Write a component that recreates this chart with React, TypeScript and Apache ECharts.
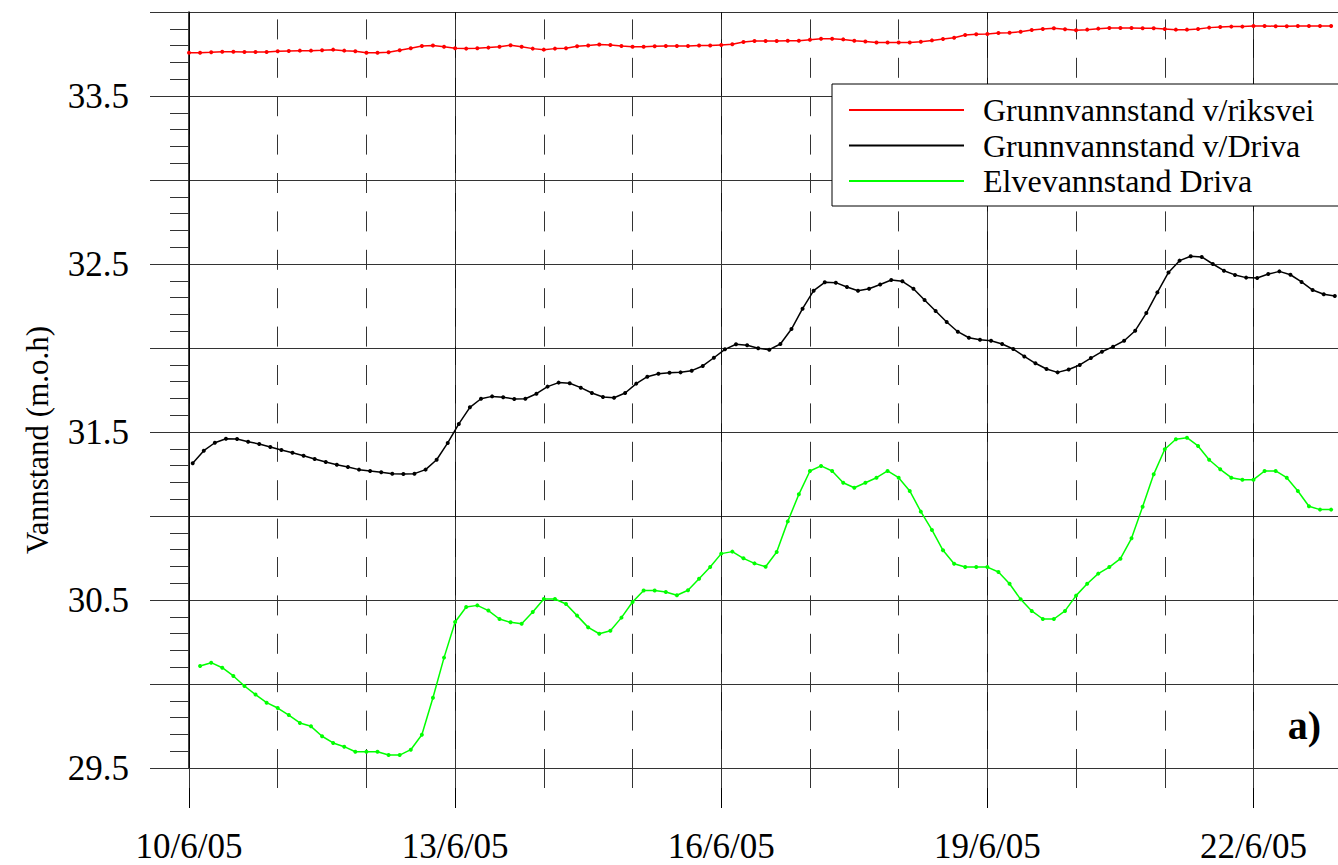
import React, { useEffect, useRef } from 'react';
import * as echarts from 'echarts';

const FONT = '"Liberation Serif", "Times New Roman", Times, serif';

// Sampling: hours after 10/6/05 00:00, one reading every 3 hours
const stepHours = 3;
const riksveiStartHour = 0;
const drivaGwStartHour = 1;
const elveStartHour = 3;

const seriesNames = ['Grunnvannstand v/riksvei', 'Grunnvannstand v/Driva', 'Elvevannstand Driva'];

const riksveiValues = [
  33.758, 33.758, 33.760, 33.764, 33.764, 33.762, 33.762, 33.762, 33.766, 33.768,
  33.770, 33.770, 33.772, 33.776, 33.770, 33.766, 33.758, 33.758, 33.760, 33.772,
  33.784, 33.798, 33.800, 33.793, 33.784, 33.782, 33.784, 33.788, 33.793, 33.802,
  33.793, 33.782, 33.776, 33.782, 33.784, 33.796, 33.800, 33.806, 33.804, 33.798,
  33.793, 33.793, 33.796, 33.798, 33.798, 33.798, 33.800, 33.800, 33.804, 33.808,
  33.821, 33.827, 33.827, 33.827, 33.829, 33.829, 33.835, 33.841, 33.841, 33.837,
  33.829, 33.825, 33.819, 33.819, 33.819, 33.819, 33.823, 33.831, 33.839, 33.847,
  33.863, 33.867, 33.869, 33.875, 33.877, 33.883, 33.893, 33.899, 33.903, 33.897,
  33.891, 33.895, 33.901, 33.905, 33.905, 33.905, 33.903, 33.903, 33.899, 33.895,
  33.895, 33.899, 33.907, 33.911, 33.913, 33.913, 33.917, 33.917, 33.915, 33.915,
  33.917, 33.917, 33.917, 33.917,
];

const drivaGwValues = [
  31.314, 31.389, 31.436, 31.460, 31.458, 31.442, 31.429, 31.411, 31.393, 31.377,
  31.359, 31.339, 31.321, 31.305, 31.292, 31.276, 31.268, 31.260, 31.252, 31.250,
  31.252, 31.276, 31.335, 31.435, 31.548, 31.647, 31.698, 31.712, 31.707, 31.696,
  31.698, 31.728, 31.770, 31.794, 31.790, 31.764, 31.732, 31.708, 31.704, 31.732,
  31.788, 31.829, 31.847, 31.853, 31.855, 31.865, 31.893, 31.942, 31.992, 32.022,
  32.016, 31.998, 31.990, 32.024, 32.113, 32.234, 32.341, 32.391, 32.389, 32.363,
  32.341, 32.353, 32.378, 32.405, 32.397, 32.353, 32.286, 32.220, 32.155, 32.097,
  32.061, 32.049, 32.043, 32.024, 31.994, 31.950, 31.909, 31.875, 31.855, 31.872,
  31.899, 31.940, 31.978, 32.008, 32.043, 32.103, 32.208, 32.331, 32.450, 32.520,
  32.546, 32.542, 32.500, 32.460, 32.435, 32.419, 32.417, 32.440, 32.456, 32.436,
  32.393, 32.345, 32.320, 32.310,
];

const elveValues = [
  30.107, 30.127, 30.097, 30.048, 29.988, 29.937, 29.889, 29.857, 29.815, 29.768,
  29.748, 29.689, 29.649, 29.627, 29.597, 29.597, 29.597, 29.577, 29.577, 29.609,
  29.698, 29.918, 30.157, 30.369, 30.458, 30.468, 30.437, 30.387, 30.367, 30.359,
  30.429, 30.506, 30.506, 30.476, 30.407, 30.337, 30.299, 30.317, 30.395, 30.488,
  30.556, 30.556, 30.548, 30.528, 30.558, 30.627, 30.696, 30.776, 30.788, 30.748,
  30.718, 30.698, 30.786, 30.968, 31.129, 31.268, 31.298, 31.268, 31.198, 31.168,
  31.198, 31.228, 31.268, 31.228, 31.149, 31.026, 30.917, 30.796, 30.716, 30.696,
  30.696, 30.696, 30.667, 30.597, 30.504, 30.435, 30.387, 30.387, 30.435, 30.526,
  30.597, 30.657, 30.696, 30.746, 30.867, 31.055, 31.248, 31.397, 31.457, 31.466,
  31.417, 31.335, 31.278, 31.228, 31.216, 31.216, 31.268, 31.268, 31.228, 31.149,
  31.058, 31.038, 31.038,
];

// Axis tick labels
const xTickLabels = ['10/6/05', '13/6/05', '16/6/05', '19/6/05', '22/6/05'];
const xTickHours = [0, 72, 144, 216, 288];
const yTickLabels = ['29.5', '30.5', '31.5', '32.5', '33.5'];

const toPairs = (vals: number[], start: number) => vals.map((v, i) => [start + i * stepHours, v]);

export default function App() {
  const ref = useRef<HTMLDivElement>(null);

  useEffect(() => {
    if (!ref.current) return;
    const chart = echarts.init(ref.current, undefined, { renderer: 'svg' });

    const xFormatter = (v: number) => {
      const idx = xTickHours.indexOf(Math.round(v));
      return idx >= 0 && Math.abs(v - xTickHours[idx]) < 1e-6 ? xTickLabels[idx] : '';
    };
    const yFormatter = (v: number) => {
      const s = v.toFixed(1);
      return yTickLabels.indexOf(s) >= 0 ? s : '';
    };

    const colors = ['#ff0000', '#000000', '#00ff00'];
    const datasets = [
      toPairs(riksveiValues, riksveiStartHour),
      toPairs(drivaGwValues, drivaGwStartHour),
      toPairs(elveValues, elveStartHour),
    ];

    chart.setOption({
      animation: false,
      backgroundColor: '#ffffff',
      grid: { left: 189, top: 12, right: -4.2, bottom: 97, containLabel: false, outerBoundsMode: 'none' },
      legend: {
        data: seriesNames,
        orient: 'vertical',
        left: 832,
        top: 84,
        icon: 'rect',
        itemWidth: 115,
        itemHeight: 2,
        itemGap: 3.5,
        padding: [10, 60, 9, 17],
        borderColor: '#000',
        borderWidth: 1,
        borderRadius: 0,
        backgroundColor: '#ffffff',
        selectedMode: false,
        textStyle: { fontFamily: FONT, fontSize: 32, color: '#000', padding: [0, 0, 0, 14] },
      },
      xAxis: [
        {
          type: 'value',
          min: 0,
          max: 312,
          interval: 72,
          position: 'bottom',
          axisLine: { show: false, onZero: false },
          axisTick: { show: true, length: 40, lineStyle: { color: '#000', width: 1 } },
          axisLabel: { formatter: xFormatter, fontFamily: FONT, fontSize: 35, color: '#000', margin: 61 },
          splitLine: { show: true, lineStyle: { color: '#111', width: 1 } },
        },
        {
          type: 'value',
          min: 0,
          max: 312,
          interval: 24,
          position: 'bottom',
          axisLine: { show: false, onZero: false },
          axisTick: { show: true, length: 20, lineStyle: { color: '#333', width: 1 } },
          axisLabel: { show: false },
          splitLine: { show: true, lineStyle: { color: '#333', width: 1, type: [20, 18.4], dashOffset: 31.4 } },
        },
      ],
      yAxis: {
        type: 'value',
        min: 29.5,
        max: 34,
        interval: 0.5,
        axisLine: { show: true, onZero: false, lineStyle: { color: '#000', width: 1.5 } },
        axisTick: { show: true, length: 39, lineStyle: { color: '#333', width: 1 } },
        minorTick: { show: true, splitNumber: 5, length: 19, lineStyle: { color: '#333', width: 1 } },
        axisLabel: { formatter: yFormatter, fontFamily: FONT, fontSize: 35, color: '#000', margin: 60 },
        splitLine: { show: true, lineStyle: { color: '#333', width: 1 } },
      },
      series: seriesNames.map((name, i) => ({
        type: 'line',
        name,
        data: datasets[i],
        xAxisIndex: 0,
        yAxisIndex: 0,
        symbol: 'circle',
        symbolSize: 4,
        showSymbol: true,
        showAllSymbol: true,
        lineStyle: { color: colors[i], width: 1.5 },
        itemStyle: { color: colors[i] },
        emphasis: { disabled: true },
        z: 3,
      })),
      graphic: [
        {
          type: 'text',
          x: 37,
          y: 440,
          rotation: Math.PI / 2,
          style: {
            text: 'Vannstand (m.o.h)',
            fontFamily: FONT,
            fontSize: 31,
            fill: '#000',
            align: 'center',
            verticalAlign: 'middle',
          },
        },
        {
          type: 'text',
          x: 1321,
          y: 725,
          style: {
            text: 'a)',
            fontFamily: FONT,
            fontSize: 40,
            fontWeight: 'bold',
            fill: '#000',
            align: 'right',
            verticalAlign: 'middle',
          },
        },
      ],
    });

    return () => chart.dispose();
  }, []);

  return (
    <div
      ref={ref}
      style={{ position: 'absolute', left: 0, top: 0, width: 1338, height: 865, background: '#fff' }}
    />
  );
}
